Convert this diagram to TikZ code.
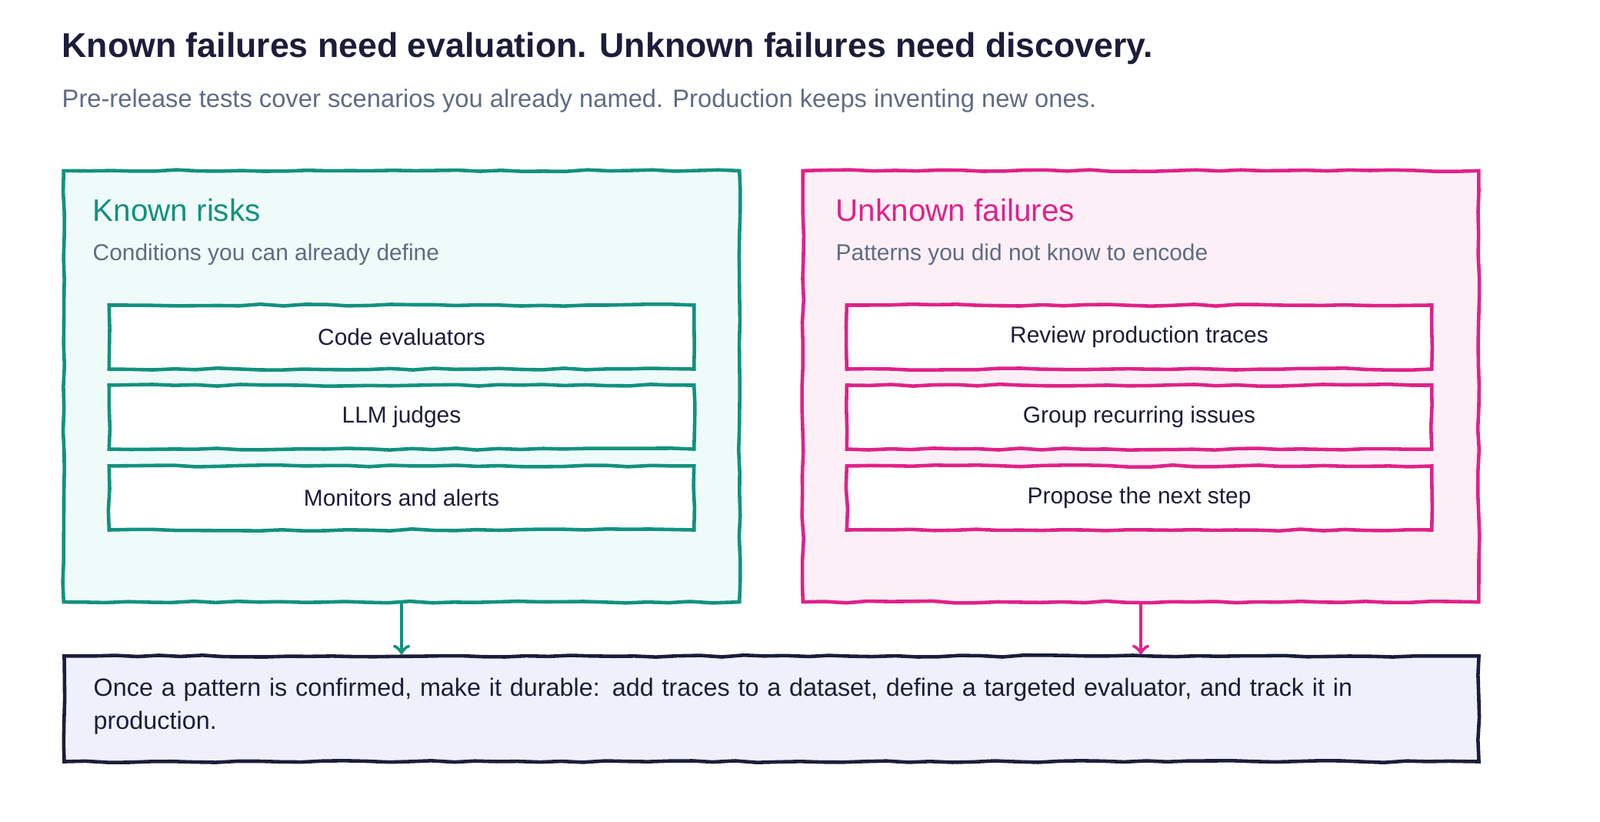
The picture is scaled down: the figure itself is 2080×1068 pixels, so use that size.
\documentclass[tikz,border=0pt]{standalone}
\usepackage{fontspec}
\setmainfont{Liberation Sans}
\usetikzlibrary{positioning,decorations.pathmorphing}

\definecolor{ink}{HTML}{1B1D3A}
\definecolor{muted}{HTML}{5F6B85}
\definecolor{teal}{HTML}{12917F}
\definecolor{tealbg}{HTML}{EFFBF8}
\definecolor{pink}{HTML}{E0218A}
\definecolor{pinkbg}{HTML}{FCF0F6}
\definecolor{notebg}{HTML}{EEF1FC}

\tikzset{
  sketch/.style={line width=1.3pt, decorate,
    decoration={random steps,segment length=8pt,amplitude=0.35pt}},
  panel/.style={sketch, minimum width=8.78cm, minimum height=5.6cm},
  item/.style={sketch, fill=white, minimum width=7.6cm, minimum height=0.83cm,
    font=\fontsize{8.5}{10}\selectfont, text=ink},
  label/.style={anchor=west, inner sep=0pt},
}

\begin{document}
\begin{tikzpicture}[x=0.01cm,y=-0.01cm]
  \useasboundingbox (0,0) rectangle (2080,1068);
  % heading
  \node[label, font=\fontsize{12.7}{14}\selectfont\bfseries, text=ink] (title) at (80,63)
    {Known failures need evaluation. Unknown failures need discovery.};
  \node[label, font=\fontsize{9.3}{11}\selectfont, text=muted] (sub) at (80,131)
    {Pre-release tests cover scenarios you already named. Production keeps inventing new ones.};

  % left panel
  \node[panel, draw=teal, fill=tealbg] (known) at (522,502) {};
  \node[label, font=\fontsize{11.5}{14}\selectfont, text=teal] (knownhead) at (120,273) {Known risks};
  \node[label, font=\fontsize{8.5}{10}\selectfont, text=muted] (knownsub) at (120,331) {Conditions you can already define};
  \node[item, draw=teal] (code) at (522,438) {Code evaluators};
  \node[item, draw=teal] (llm) at (522,542) {LLM judges};
  \node[item, draw=teal] (mon) at (522,647) {Monitors and alerts};

  % right panel
  \node[panel, draw=pink, fill=pinkbg] (unknown) at (1483,502) {};
  \node[label, font=\fontsize{11.5}{14}\selectfont, text=pink] (unknownhead) at (1086,273) {Unknown failures};
  \node[label, font=\fontsize{8.5}{10}\selectfont, text=muted] (unknownsub) at (1086,331) {Patterns you did not know to encode};
  \node[item, draw=pink] (review) at (1481,438) {Review production traces};
  \node[item, draw=pink] (group) at (1481,542) {Group recurring issues};
  \node[item, draw=pink] (propose) at (1481,647) {Propose the next step};

  % bottom note
  \node[sketch, draw=ink, fill=notebg, minimum width=18.38cm, minimum height=1.37cm] (note) at (1003,921) {};
  \node[anchor=north west, inner sep=0pt, align=left, text width=16.8cm,
    font=\fontsize{9.2}{12.2}\selectfont, text=ink] (notetext) at (121,880)
    {\hyphenpenalty=10000 Once a pattern is confirmed, make it durable: add traces to a dataset, define a targeted evaluator, and track it in production.};

  \draw[teal, line width=1.3pt, ->] (known.south) -- (known.south |- note.north);
  \draw[pink, line width=1.3pt, ->] (unknown.south) -- (unknown.south |- note.north);
\end{tikzpicture}
\end{document}
